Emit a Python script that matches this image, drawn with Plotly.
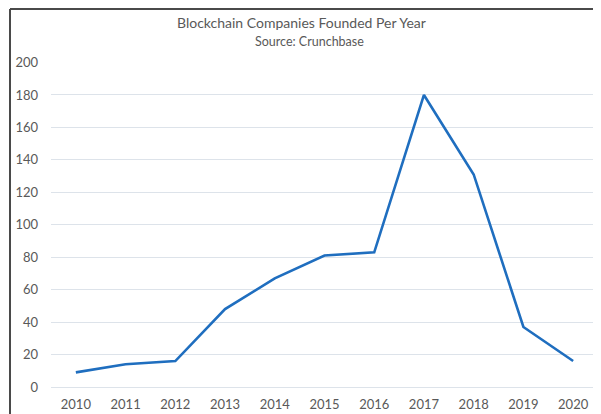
import plotly.graph_objects as go

years = ["2010", "2011", "2012", "2013", "2014", "2015", "2016", "2017", "2018", "2019", "2020"]
companies = [9, 14, 16, 48, 67, 81, 83, 180, 131, 37, 16]
y_ticks = [0, 20, 40, 60, 80, 100, 120, 140, 160, 180, 200]

title = "Blockchain Companies Founded Per Year"
subtitle = "Source: Crunchbase"

OFF = 8  # page body margin
W, H = 601 - OFF, 414 - OFF
L, R, T, B = 51 - OFF, 3, 62 - OFF, 27
pw, ph = W - L - R, H - T - B

def px(x):
    return (x - OFF - L) / pw

def py(y):
    return (H - B - (y - OFF)) / ph

FONT = "Lato, 'Open Sans', sans-serif"
GRAY = "#595959"

fig = go.Figure()
fig.add_trace(go.Scatter(
    x=years, y=companies, mode="lines",
    line=dict(color="#1f6ebf", width=2.6),
    hoverinfo="x+y",
))

fig.update_layout(
    width=W, height=H,
    margin=dict(l=L, r=R, t=T, b=B, pad=0),
    paper_bgcolor="white", plot_bgcolor="white",
    showlegend=False,
    font=dict(family=FONT, color=GRAY, size=13),
    xaxis=dict(
        type="category", range=[-0.5, 10.5],
        showgrid=False, zeroline=False, showline=False, ticks="",
        tickfont=dict(size=13, color=GRAY, family=FONT),
        ticklabelstandoff=8,
    ),
    yaxis=dict(
        range=[0, 200.3], tickvals=y_ticks,
        showgrid=True, gridcolor="#dde3ea", gridwidth=1,
        zeroline=True, zerolinecolor="#dde3ea", zerolinewidth=1,
        showline=False, ticks="",
        tickfont=dict(size=13, color=GRAY, family=FONT),
        ticklabelstandoff=12,
    ),
    annotations=[
        dict(text=title, x=px(301), y=py(22), xref="paper", yref="paper",
             showarrow=False, xanchor="center", yanchor="middle",
             font=dict(size=14, color=GRAY, family=FONT)),
        dict(text=subtitle, x=px(309), y=py(41), xref="paper", yref="paper",
             showarrow=False, xanchor="center", yanchor="middle",
             font=dict(size=12.5, color=GRAY, family=FONT)),
    ],
    shapes=[
        dict(type="line", xref="paper", yref="paper",
             x0=px(10), y0=py(9), x1=px(610), y1=py(9),
             line=dict(color="#4a4a4a", width=2)),
        dict(type="line", xref="paper", yref="paper",
             x0=px(10), y0=py(9), x1=px(10), y1=py(420),
             line=dict(color="#4a4a4a", width=2)),
    ],
)

fig.write_html("out.html")
